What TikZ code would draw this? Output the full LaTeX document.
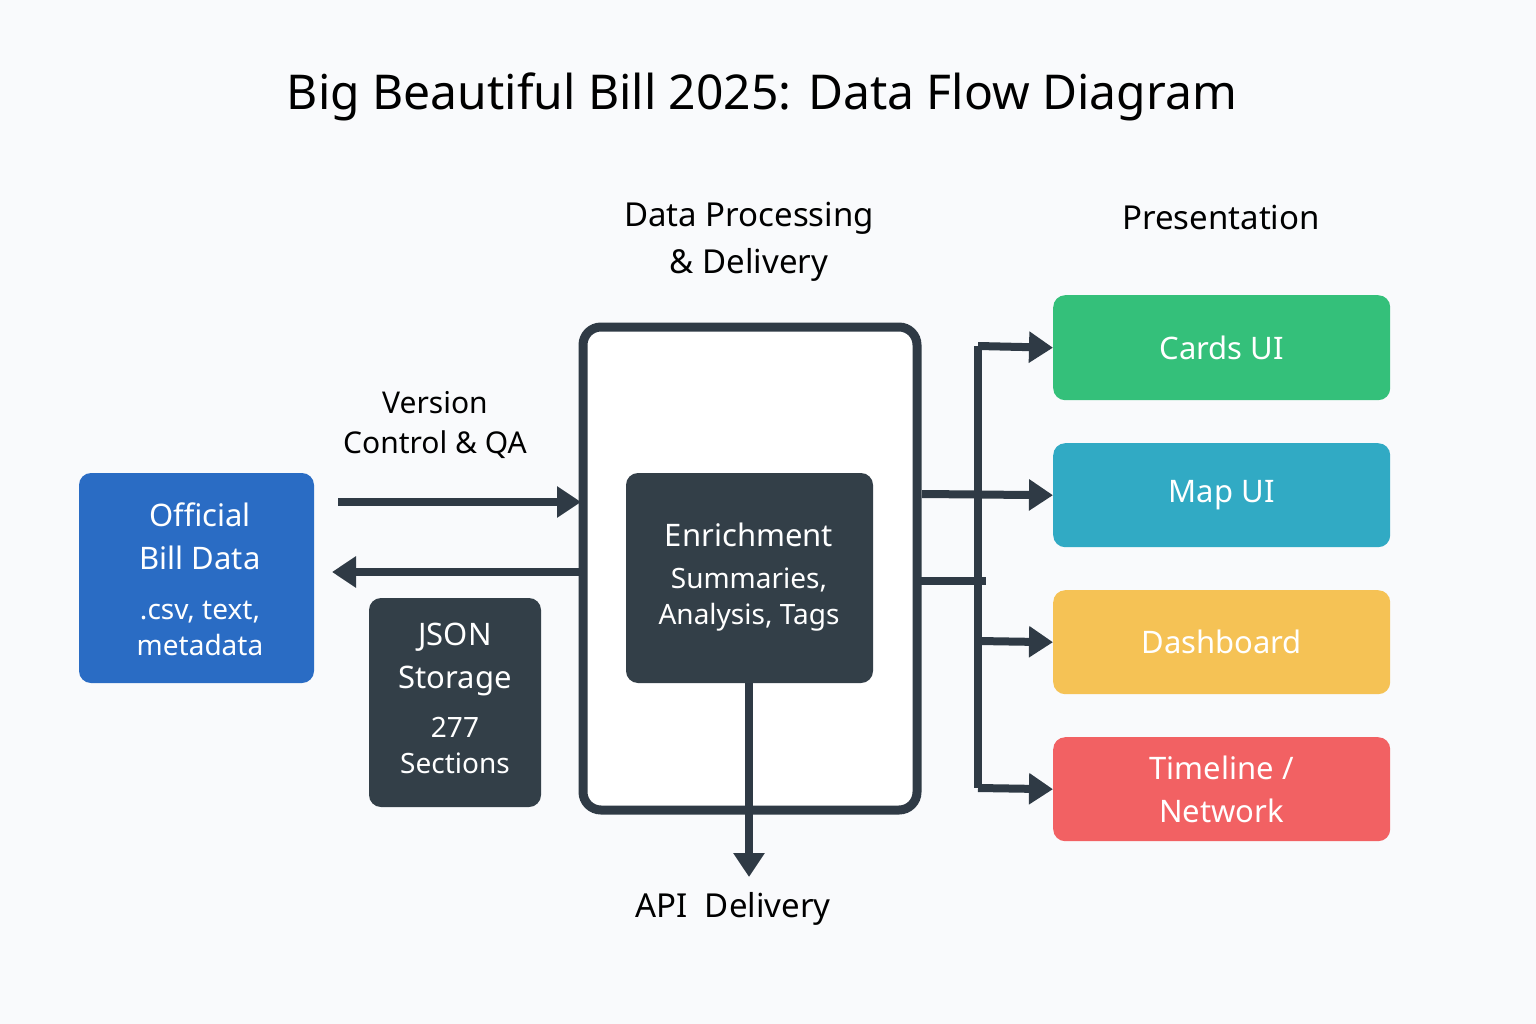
\documentclass[tikz,border=0pt]{standalone}
\usepackage{fontspec}
\setmainfont{Noto Sans}
\usetikzlibrary{arrows.meta}
\definecolor{dk}{HTML}{333F48}
\definecolor{ln}{HTML}{2F3A45}
\definecolor{bl}{HTML}{2A6CC4}
\definecolor{gr}{HTML}{34C07A}
\definecolor{cy}{HTML}{31AAC4}
\definecolor{ye}{HTML}{F5C255}
\definecolor{rd}{HTML}{F26163}
\definecolor{bg}{HTML}{F9FAFC}
\begin{document}
\begin{tikzpicture}[x=1pt,y=-1pt,
  fs/.style={font=\fontsize{#1}{#1}\selectfont},
  box/.style={rounded corners=12pt,draw=none},
  ui/.style={box,text=white,font=\fontsize{31}{36}\selectfont\bfseries,align=center},
  arr/.style={line width=8pt,draw=ln,-{Triangle[length=24pt,width=30pt]}},
  wire/.style={line width=8pt,draw=ln}]
\fill[bg] (0,0) rectangle (1536,1024);
\useasboundingbox (0,0) rectangle (1536,1024);
\node[fs=48,font=\fontsize{48}{48}\selectfont\bfseries] (title) at (762,97) {Big Beautiful Bill 2025: Data Flow Diagram};
\node[align=center,font=\fontsize{33}{47}\selectfont] (dp) at (749,242) {Data Processing\\\& Delivery};
\node[font=\fontsize{33}{40}\selectfont] (pr) at (1221,218) {Presentation};
\draw[line width=9pt,draw=ln,fill=white,rounded corners=18pt] (583,327) rectangle (917,810);
\coordinate (bigL) at (583,500);
\fill[dk,rounded corners=12pt] (626,473) rectangle (873,683);
\node[text=white,font=\fontsize{31}{36}\selectfont\bfseries] (en) at (749,535) {Enrichment};
\node[text=white,align=center,font=\fontsize{28}{36}\selectfont] (ens) at (749,600) {Summaries,\\Analysis, Tags};
\coordinate (enB) at (749,683);
\fill[bl,rounded corners=12pt] (79,473) rectangle (314,683);
\node[text=white,align=center,font=\fontsize{31}{43}\selectfont\bfseries] (of) at (200,536) {Official\\Bill Data};
\node[text=white,align=center,font=\fontsize{28}{36}\selectfont] (ofs) at (200,628) {.csv, text,\\metadata};
\fill[dk,rounded corners=12pt] (369,598) rectangle (541,807);
\node[text=white,align=center,font=\fontsize{31}{43}\selectfont\bfseries] (js) at (455,659) {JSON\\Storage};
\node[text=white,align=center,font=\fontsize{28}{36}\selectfont] (jss) at (455,745) {277\\Sections};
\node[align=center,font=\fontsize{30}{40}\selectfont] (vc) at (435,425) {Version\\Control \& QA};
\coordinate (a1s) at (338,502); \coordinate (a1e) at (581,502);
\draw[arr] (a1s) -- (a1e);
\coordinate (a2s) at (580,572); \coordinate (a2e) at (332,572);
\draw[arr] (a2s) -- (a2e);
\coordinate (apiE) at (749,877);
\draw[arr] (enB) -- (apiE);
\node[font=\fontsize{33}{40}\selectfont] (api) at (733,909) {API\ \ Delivery};
\node[ui,fill=gr,minimum width=337pt,minimum height=105pt,anchor=north west,rounded corners=12pt] (c) at (1053,295) {Cards UI};
\node[ui,fill=cy,minimum width=337pt,minimum height=104pt,anchor=north west,rounded corners=12pt] (m) at (1053,443) {Map UI};
\node[ui,fill=ye,minimum width=337pt,minimum height=104pt,anchor=north west,rounded corners=12pt] (d) at (1053,590) {Dashboard};
\node[ui,fill=rd,minimum width=337pt,minimum height=104pt,anchor=north west,rounded corners=12pt,align=center,font=\fontsize{31}{43}\selectfont\bfseries] (t) at (1053,737) {Timeline /\\Network};
\coordinate (o1) at (922,494); \coordinate (o2) at (922,581);
\coordinate (b2) at (982,581); \coordinate (bt) at (978,346); \coordinate (bb) at (978,788);
\draw[wire,line cap=rect] (o2) -- (b2);
\draw[wire] (bt) -- (bb);
\draw[arr] (bt) -- (c.west);
\draw[arr] (o1) -- (m.west);
\draw[arr] (978,641) -- (d.west);
\draw[arr] (bb) -- (t.west);
\end{tikzpicture}
\end{document}
